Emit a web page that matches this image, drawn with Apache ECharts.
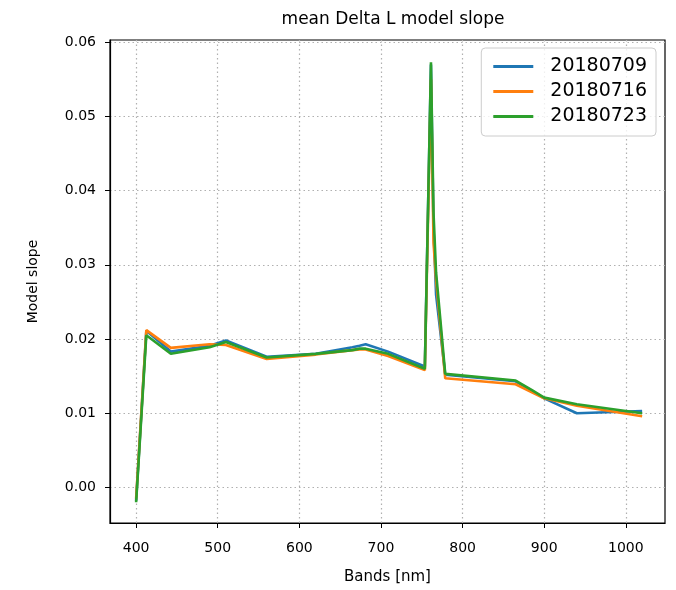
<!DOCTYPE html>
<html>
<head>
<meta charset="utf-8">
<script src="https://cdn.jsdelivr.net/npm/echarts@6/dist/echarts.min.js"></script>
<style>html,body{margin:0;padding:0;background:#fff;}#c{width:676px;height:590px;}</style>
</head>
<body>
<div id="c"></div>
<script>
const bands = [400, 412.5, 442.5, 490, 510, 560, 620, 665, 673.75, 681.25, 708.75, 753.75, 761.25, 764.375, 767.5, 778.75, 865, 885, 900, 940, 1020];
const s20180709 = [-0.0018, 0.0211, 0.0183, 0.0191, 0.0198, 0.0176, 0.0180, 0.0189, 0.0191, 0.0193, 0.0183, 0.0163, 0.0570, 0.0350, 0.0260, 0.0152, 0.0143, 0.0130, 0.0120, 0.0100, 0.0103];
const s20180716 = [-0.0015, 0.0212, 0.0188, 0.0193, 0.0192, 0.0173, 0.0179, 0.0185, 0.0186, 0.0186, 0.0177, 0.0158, 0.0550, 0.0330, 0.0280, 0.0147, 0.0139, 0.0128, 0.0120, 0.0110, 0.0096];
const s20180723 = [-0.0020, 0.0205, 0.0180, 0.0189, 0.0196, 0.0175, 0.0180, 0.0185, 0.0187, 0.0187, 0.0180, 0.0160, 0.0573, 0.0370, 0.0290, 0.0153, 0.0144, 0.0131, 0.0121, 0.0112, 0.0100];
const seriesNames = ['20180709', '20180716', '20180723'];
const colors = ['#1f77b4', '#ff7f0e', '#2ca02c'];
const xTicks = [400, 500, 600, 700, 800, 900, 1000];
const yTicks = [0, 0.01, 0.02, 0.03, 0.04, 0.05, 0.06];

const allSeries = [s20180709, s20180716, s20180723];
const chart = echarts.init(document.getElementById('c'), null, {renderer: 'canvas'});
const font = 'DejaVu Sans';
chart.setOption({
  animation: false,
  backgroundColor: '#fff',
  title: {
    text: 'mean Delta L model slope',
    left: 388, top: 6, textAlign: 'center',
    textStyle: {fontFamily: font, fontSize: 17, fontWeight: 'normal', color: '#000'}
  },
  legend: {
    orient: 'vertical', right: 20, top: 48,
    data: seriesNames,
    icon: 'rect', itemWidth: 40, itemHeight: 3, itemGap: 6,
    padding: [9, 9, 10, 12],
    borderColor: '#cccccc', borderWidth: 1, borderRadius: 4,
    backgroundColor: 'rgba(255,255,255,0.8)',
    textStyle: {fontFamily: font, fontSize: 19, color: '#000', padding: [0, 0, 0, 12]}
  },
  grid: {left: 110, right: 11, top: 40, bottom: 63, show: true, borderColor: '#000', borderWidth: 1.2, containLabel: false},
  xAxis: {
    type: 'value', min: 368, max: 1048,
    name: 'Bands [nm]', nameLocation: 'middle', nameGap: 47,
    nameTextStyle: {fontFamily: font, fontSize: 15, color: '#000'},
    axisLine: {show: true, onZero: false, lineStyle: {color: '#000', width: 1.2}},
    axisTick: {show: true, length: 5, customValues: xTicks, lineStyle: {color: '#000'}},
    axisLabel: {customValues: xTicks, fontFamily: font, fontSize: 14, color: '#000', margin: 18,
      formatter: v => String(v)},
    splitLine: {show: true, lineStyle: {color: '#b0b0b0', type: [1.5, 3], width: 1.2}}
  },
  yAxis: {
    type: 'value', min: -0.0048, max: 0.0603,
    name: 'Model slope', nameLocation: 'middle', nameGap: 70, nameRotate: 90,
    nameTextStyle: {fontFamily: font, fontSize: 14, color: '#000'},
    axisLine: {show: true, onZero: false, lineStyle: {color: '#000', width: 1.2}},
    axisTick: {show: true, length: 5, customValues: yTicks, lineStyle: {color: '#000'}},
    axisLabel: {customValues: yTicks, fontFamily: font, fontSize: 14, color: '#000', margin: 14,
      formatter: v => v.toFixed(2)},
    splitLine: {show: true, lineStyle: {color: '#b0b0b0', type: [1.5, 3], width: 1.2}}
  },
  series: allSeries.map((s, i) => ({
    name: seriesNames[i], type: 'line', symbol: 'none',
    data: bands.map((b, j) => [b, s[j]]),
    lineStyle: {color: colors[i], width: 2.6},
    itemStyle: {color: colors[i]}
  }))
});
</script>
</body>
</html>
